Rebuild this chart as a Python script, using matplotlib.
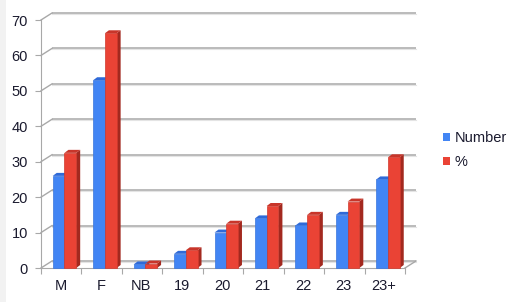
import matplotlib
matplotlib.use("Agg")
import matplotlib.pyplot as plt
from matplotlib.patches import Polygon, Patch, Rectangle

categories = ["M", "F", "NB", "19", "20", "21", "22", "23", "23+"]
number = [26, 53, 1, 4, 10, 14, 12, 15, 25]
percent = [32.5, 66.25, 1.25, 5, 12.5, 17.5, 15, 18.75, 31.25]
yticks = [0, 10, 20, 30, 40, 50, 60, 70]
series_names = ["Number", "%"]

W, H, DPI = 516, 302, 100
plt.rcParams['font.family'] = ['Liberation Sans', 'DejaVu Sans']

fig = plt.figure(figsize=(W / DPI, H / DPI), dpi=DPI)
fig.add_artist(Rectangle((0, 0), 6 / W, 1, transform=fig.transFigure,
                         facecolor="#f2f2f2", edgecolor="none"))

# front plot area in pixels
x0, x1 = 41, 405
y0, y1 = 268, 20
ax = fig.add_axes([x0 / W, 1 - y0 / H, (x1 - x0) / W, (y0 - y1) / H])
n = len(categories)
ax.set_xlim(0, n)
ax.set_ylim(0, 70)
ax.patch.set_visible(False)

pxx = n / (x1 - x0)      # data units per pixel (x)
pxy = 70 / (y0 - y1)     # data units per pixel (y)
wdx, wdy = 11 * pxx, 7 * pxy     # wall depth
bdx, bdy = 4 * pxx, 3 * pxy      # bar depth

grid_c = "#a8a8a8"
# back-wall gridlines + diagonals
for v in yticks:
    ax.plot([wdx, n + wdx], [v + wdy, v + wdy], color=grid_c, lw=1.1,
            clip_on=False, zorder=1, solid_capstyle="butt")
    ax.plot([wdx, n + wdx], [v + wdy - 1.0 * pxy, v + wdy - 1.0 * pxy],
            color="#e4e4e4", lw=0.8, clip_on=False, zorder=0.9)
    ax.plot([0, wdx], [v, v + wdy], color=grid_c, lw=1.0, clip_on=False, zorder=1)
# floor right diagonal
ax.plot([n, n + wdx], [0, wdy], color=grid_c, lw=1.0, clip_on=False, zorder=1)

colors = [
    dict(front="#4285f4", top="#2f6ad8", side="#2a5bb8", edge="#3a76dc"),
    dict(front="#ea4335", top="#c8352a", side="#a3291f", edge="#cf3a2d"),
]
bw = 0.29
start = 0.29

z = 3
for i in range(n):
    for s, vals in enumerate([number, percent]):
        v = vals[i]
        c = colors[s]
        xl = i + start + s * bw
        xr = xl + bw
        side = Polygon([(xr, 0), (xr + bdx, bdy), (xr + bdx, v + bdy), (xr, v)],
                       closed=True, facecolor=c["side"], edgecolor="none",
                       clip_on=False, zorder=z)
        top = Polygon([(xl, v), (xl + bdx, v + bdy), (xr + bdx, v + bdy), (xr, v)],
                      closed=True, facecolor=c["top"], edgecolor="none",
                      clip_on=False, zorder=z)
        ax.add_patch(side)
        ax.add_patch(top)
        ax.bar([xl], [v], width=bw, align="edge", color=c["front"],
               edgecolor=c["edge"], linewidth=0.5, zorder=z + 0.1,
               clip_on=False)
        z += 0.2

# axes styling
for sp in ["top", "right"]:
    ax.spines[sp].set_visible(False)
ax.spines["left"].set_color(grid_c)
ax.spines["bottom"].set_color(grid_c)
ax.spines["left"].set_zorder(1)
ax.spines["bottom"].set_zorder(1)

fs = 10.5
ax.set_yticks(yticks)
ax.set_yticklabels([str(v) for v in yticks])
ax.tick_params(axis="y", length=4.3, width=0.8, color=grid_c, pad=5.0,
               labelsize=fs, labelcolor="#1a1a2e")

ax.set_xticks([i + 0.48 for i in range(n)])
ax.set_xticklabels(categories)
ax.set_xticks(list(range(n + 1)), minor=True)
ax.tick_params(axis="x", which="major", length=0, pad=8,
               labelsize=fs, labelcolor="#1a1a2e")
ax.tick_params(axis="x", which="minor", length=4.3, width=0.8, color=grid_c)

handles = [Patch(facecolor=colors[0]["front"], edgecolor="none"),
           Patch(facecolor=colors[1]["front"], edgecolor="none")]
fig.legend(handles, series_names, loc="upper left",
           bbox_to_anchor=(443 / W, 1 - 131 / H), frameon=False,
           fontsize=fs, handlelength=0.5, handleheight=0.5,
           handletextpad=0.3, labelspacing=0.7, borderpad=0,
           borderaxespad=0, labelcolor="#1a1a2e")

fig.savefig("out.png", dpi=DPI)
